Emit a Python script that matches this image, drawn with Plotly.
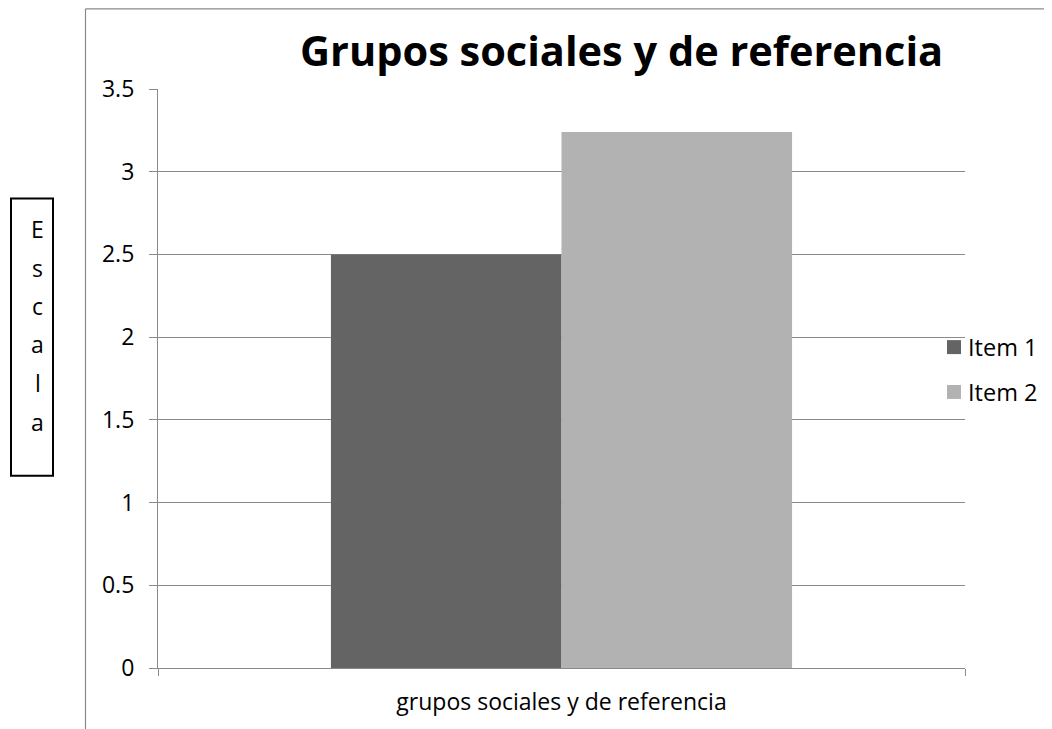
import plotly.graph_objects as go

categories = ["grupos sociales y de referencia"]
series_names = ["Item 1", "Item 2"]
series_colors = ["#646464", "#b2b2b2"]
item1_values = [2.5]
item2_values = [3.24]
y_ticks = [0, 0.5, 1, 1.5, 2, 2.5, 3, 3.5]
y_tick_labels = ["0", "0.5", "1", "1.5", "2", "2.5", "3", "3.5"]
side_label = list("Escala")

# page body adds an 8px margin, so the figure is drawn 8px smaller and all
# reference pixel positions are shifted by that offset
OFF = 8
W, H = 1052 - OFF, 729 - OFF
L, R, T, B = 158 - OFF, 965 - OFF, 89 - OFF, 670 - OFF
FONT = "'Open Sans', 'Noto Sans', sans-serif"
GRID = "#8a8a8a"


def px_x(x):
    return (x - OFF - L) / (R - L)


def px_y(y):
    return (B - (y - OFF)) / (B - T)


fig = go.Figure()
fig.add_trace(go.Bar(x=categories, y=item1_values, name=series_names[0],
                     marker=dict(color=series_colors[0], line=dict(width=0))))
fig.add_trace(go.Bar(x=categories, y=item2_values, name=series_names[1],
                     marker=dict(color=series_colors[1], line=dict(width=0))))

shapes = [
    # outer chart border (left and top visible)
    dict(type="line", xref="paper", yref="paper", x0=px_x(85.5), x1=px_x(85.5),
         y0=px_y(780), y1=px_y(8.5), line=dict(color=GRID, width=1.2)),
    dict(type="line", xref="paper", yref="paper", x0=px_x(85.5), x1=px_x(1120),
         y0=px_y(8.5), y1=px_y(8.5), line=dict(color=GRID, width=1.2)),
    # box around side label
    dict(type="rect", xref="paper", yref="paper", x0=px_x(11), x1=px_x(53),
         y0=px_y(477), y1=px_y(199), line=dict(color="black", width=2)),
]

annotations = [
    dict(text="<b>Grupos sociales y de referencia</b>", xref="paper", yref="paper",
         x=px_x(621), y=px_y(50), showarrow=False,
         font=dict(family=FONT, size=41.5, color="black"),
         xanchor="center", yanchor="middle"),
]
letter_y = [229, 269, 307, 345, 384, 423]
for ch, ly in zip(side_label, letter_y):
    annotations.append(dict(text=ch, xref="paper", yref="paper", x=px_x(37.5), y=px_y(ly),
                            showarrow=False, xanchor="center", yanchor="middle",
                            font=dict(family=FONT, size=23, color="black")))

# legend drawn by hand to match the reference spacing
legend_y = [348, 393]
for name, color, ly in zip(series_names, series_colors, legend_y):
    shapes.append(dict(type="rect", xref="paper", yref="paper",
                       x0=px_x(947), x1=px_x(961), y0=px_y(ly + 7), y1=px_y(ly - 7),
                       fillcolor=color, line=dict(width=0)))
    annotations.append(dict(text=name, xref="paper", yref="paper", x=px_x(966), y=px_y(ly),
                            showarrow=False, xanchor="left", yanchor="middle",
                            font=dict(family=FONT, size=23.5, color="black")))

fig.update_layout(
    width=W, height=H,
    margin=dict(l=L, r=W - R, t=T, b=H - B, pad=0),
    paper_bgcolor="white", plot_bgcolor="white",
    barmode="group", bargap=1.5 / 3.5, bargroupgap=0,
    font=dict(family=FONT, size=23, color="black"),
    showlegend=False,
    shapes=shapes,
    annotations=annotations,
    xaxis=dict(showgrid=False, showline=True, linecolor=GRID, linewidth=1.2,
               ticks="outside", ticklen=7, tickcolor=GRID, tickwidth=1.2,
               tickson="boundaries", ticklabelstandoff=13,
               tickfont=dict(family=FONT, size=23, color="black"),
               zeroline=False),
    yaxis=dict(range=[0, 3.5], tickvals=y_ticks, ticktext=y_tick_labels,
               showgrid=True, gridcolor=GRID, gridwidth=1.2,
               showline=True, linecolor=GRID, linewidth=1.2,
               ticks="outside", ticklen=8, tickcolor=GRID, tickwidth=1.2,
               ticklabelstandoff=10, zeroline=False,
               tickfont=dict(family=FONT, size=23, color="black")),
)

fig.write_html("out.html")
